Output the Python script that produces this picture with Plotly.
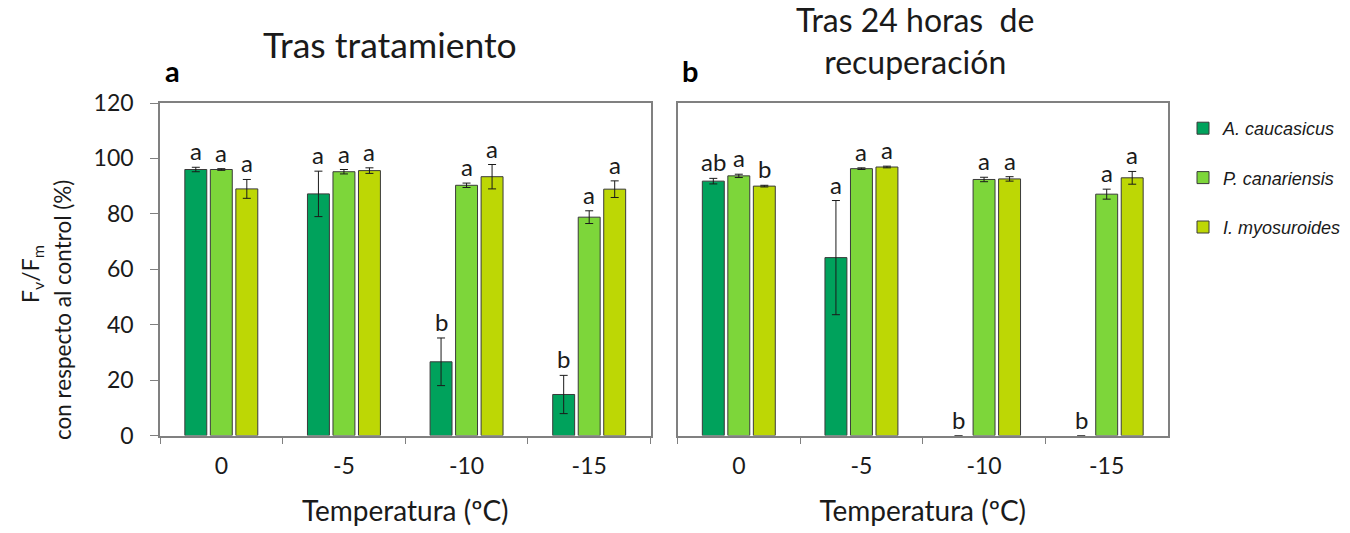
import plotly.graph_objects as go

categories = ["0", "-5", "-10", "-15"]
species = ["A. caucasicus", "P. canariensis", "I. myosuroides"]
colors = ["#00A25C", "#7DD63A", "#BDD705"]

# Panel a: Tras tratamiento
a_vals = [[96.0, 87.2, 26.6, 14.8],
          [96.0, 95.2, 90.3, 78.8],
          [89.0, 95.6, 93.4, 88.9]]
a_errs = [[0.8, 8.2, 8.6, 6.9],
          [0.3, 0.8, 0.8, 2.3],
          [3.4, 1.0, 4.4, 3.0]]
a_letters = [["a", "a", "b", "b"],
             ["a", "a", "a", "a"],
             ["a", "a", "a", "a"]]

# Panel b: Tras 24 horas de recuperación
b_vals = [[91.8, 64.2, 0, 0],
          [93.7, 96.3, 92.4, 87.1],
          [90.0, 96.9, 92.6, 93.0]]
b_errs = [[1.0, 20.6, 0, 0],
          [0.6, 0.3, 0.8, 1.8],
          [0.3, 0.3, 0.8, 2.3]]
b_letters = [["ab", "a", "b", "b"],
             ["a", "a", "a", "a"],
             ["b", "a", "a", "a"]]

yticks = [0, 20, 40, 60, 80, 100, 120]

FONT = "Lato"
TXT = "#1a1a1a"
AX = "#808080"
BARGAP = 0.376
SLOT = (1 - BARGAP) / 3
W, H = 1350, 533

fig = go.Figure()
panels = [("x", "y", a_vals, a_errs, a_letters, True),
          ("x2", "y2", b_vals, b_errs, b_letters, False)]
annotations = []
for xa, ya, vals, errs, letters, show in panels:
    for i, sp in enumerate(species):
        fig.add_trace(go.Bar(
            x=categories, y=vals[i], name=sp, xaxis=xa, yaxis=ya,
            legendgroup=sp, showlegend=show,
            marker=dict(color=colors[i],
                        line=dict(color="#3a3a3a", width=[1 if v > 0 else 0 for v in vals[i]])),
            error_y=dict(type="data", array=[e if e > 0 else None for e in errs[i]],
                         visible=True, color="#1a1a1a", thickness=1, width=4),
        ))
        for j, cat in enumerate(categories):
            top = vals[i][j] + errs[i][j]
            annotations.append(dict(
                x=j + (i - 1) * SLOT, y=top, xref=xa, yref=ya,
                text=letters[i][j], showarrow=False, xanchor="center", yanchor="bottom",
                yshift=0, font=dict(family=FONT, size=24, color=TXT)))

common_x = dict(type="category", showline=True, linecolor=AX, linewidth=1.5, mirror=True,
                ticks="outside", tickson="boundaries", ticklen=7, tickcolor=AX,
                tickfont=dict(family=FONT, size=23, color=TXT), ticklabelstandoff=9,
                title=dict(text="Temperatura (ºC)", font=dict(family=FONT, size=28, color=TXT),
                           standoff=24),
                showgrid=False, zeroline=False, automargin=False)
ydom = [1 - 435.5 / H, 1 - 103 / H]
fig.update_layout(
    width=W, height=H,
    margin=dict(l=0, r=0, t=0, b=0, autoexpand=False),
    paper_bgcolor="white", plot_bgcolor="white",
    barmode="group", bargap=BARGAP, bargroupgap=0.14,
    xaxis=dict(domain=[160 / W, 650.5 / W], anchor="y", **common_x),
    xaxis2=dict(domain=[677.5 / W, 1168 / W], anchor="y2", **common_x),
    yaxis=dict(domain=ydom, anchor="x", range=[0, 120], automargin=False,
               tickvals=yticks, showline=True, linecolor=AX, linewidth=1.5, mirror=True,
               ticks="outside", ticklen=8, tickcolor=AX, ticklabelstandoff=12,
               tickfont=dict(family=FONT, size=23, color=TXT), showgrid=False, zeroline=False),
    yaxis2=dict(domain=ydom, anchor="x2", range=[0, 120], automargin=False,
                showline=True, linecolor=AX, linewidth=1.5, mirror=True,
                showticklabels=False, ticks="", showgrid=False, zeroline=False),
    legend=dict(x=1183 / W, y=1 - 110 / H, xanchor="left", yanchor="top",
                traceorder="grouped", tracegroupgap=23,
                font=dict(family="Liberation Sans", size=18, color=TXT, style="italic"),
                bgcolor="rgba(0,0,0,0)"),
    showlegend=True,
)

annotations += [
    dict(text="F<sub>v</sub>/F<sub>m</sub>", x=31 / W, y=1 - 274 / H, xref="paper", yref="paper",
         xanchor="center", yanchor="middle", textangle=-90, showarrow=False,
         font=dict(family=FONT, size=23, color=TXT)),
    dict(text="con respecto al control (%)", x=62 / W, y=1 - 310 / H, xref="paper", yref="paper",
         xanchor="center", yanchor="middle", textangle=-90, showarrow=False,
         font=dict(family=FONT, size=22.5, color=TXT)),
    dict(text="Tras tratamiento", x=390 / W, y=1 - 45 / H, xref="paper", yref="paper",
         xanchor="center", yanchor="middle", showarrow=False,
         font=dict(family=FONT, size=35.5, color=TXT)),
    dict(text="a", x=172 / W, y=1 - 70 / H, xref="paper", yref="paper",
         xanchor="center", yanchor="middle", showarrow=False,
         font=dict(family=FONT, size=29, color="#000000", weight="bold")),
    dict(text="Tras 24 horas  de<br>recuperación", x=915 / W, y=1 - 41 / H,
         xref="paper", yref="paper", xanchor="center", yanchor="middle", showarrow=False,
         font=dict(family=FONT, size=32, color=TXT)),
    dict(text="b", x=690 / W, y=1 - 70 / H, xref="paper", yref="paper",
         xanchor="center", yanchor="middle", showarrow=False,
         font=dict(family=FONT, size=29, color="#000000", weight="bold")),
]
fig.update_layout(annotations=annotations)

fig.write_html("out.html")
